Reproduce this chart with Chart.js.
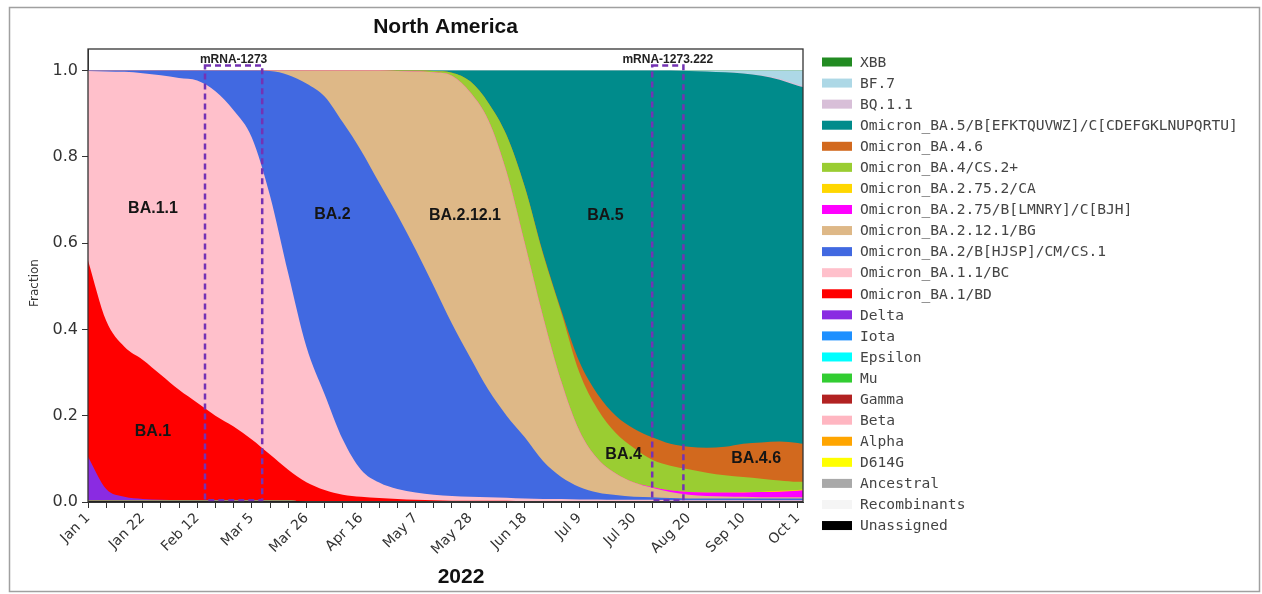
<!DOCTYPE html>
<html>
<head>
<meta charset="utf-8">
<script src="https://cdn.jsdelivr.net/npm/chart.js@4.4.0/dist/chart.umd.min.js"></script>
<style>
  html, body { margin: 0; background: #fff; }
  canvas { display: block; }
</style>
</head>
<body>
<canvas id="variants" width="1262" height="594"></canvas>
<script>
// days since 2022-01-01, one sample a week (last one is Oct 3)
const days = [0, 7, 14, 21, 28, 35, 42, 49, 56, 63, 70, 77, 84, 91, 98, 105, 112, 119, 126, 133,
  140, 147, 154, 161, 168, 175, 182, 189, 196, 203, 210, 217, 224, 231, 238, 245, 252, 259, 266, 273, 275];

const tickDays = [0, 21, 42, 63, 84, 105, 126, 147, 168, 189, 210, 231, 252, 273];
const tickLabels = ['Jan 1', 'Jan 22', 'Feb 12', 'Mar 5', 'Mar 26', 'Apr 16', 'May 7',
  'May 28', 'Jun 18', 'Jul 9', 'Jul 30', 'Aug 20', 'Sep 10', 'Oct 1'];
const yTicks = [0, 0.2, 0.4, 0.6, 0.8, 1.0];

// fractions per lineage, bottom of the stack first
const none = [0,0,0,0,0,0,0,0,0,0, 0,0,0,0,0,0,0,0,0,0, 0,0,0,0,0,0,0,0,0,0, 0,0,0,0,0,0,0,0,0,0, 0];
const unassigned = [0.003,0.003,0.003,0.003,0.003,0.003,0.003,0.003,0.003,0.003, 0.003,0.003,0.002,0.002,0.002,0.002,0.002,0.002,0.002,0.002,
  0.002,0.002,0.002,0.002,0.002,0.002,0.002,0.002,0.002,0.002, 0.002,0.002,0.002,0.002,0.002,0.002,0.002,0.002,0.002,0.002, 0.002];
const delta = [0.102,0.027,0.009,0.004,0.002,0.001,0.001,0.001,0,0, 0,0,0,0,0,0,0,0,0,0,
  0,0,0,0,0,0,0,0,0,0, 0,0,0,0,0,0,0,0,0,0, 0];
const ba1 = [0.455,0.39,0.348,0.323,0.29,0.256,0.226,0.196,0.172,0.142, 0.107,0.072,0.044,0.026,0.015,0.010,0.007,0.005,0.003,0.002,
  0.001,0.001,0.001,0.001,0,0,0,0,0,0, 0,0,0,0,0,0,0,0,0,0, 0];
const ba11 = [0.439,0.578,0.637,0.664,0.694,0.723,0.747,0.752,0.733,0.700, 0.600,0.455,0.314,0.222,0.128,0.063,0.036,0.023,0.017,0.013,
  0.011,0.009,0.008,0.007,0.006,0.005,0.005,0.004,0.004,0.003, 0.003,0.003,0.002,0.002,0.002,0.002,0.002,0.002,0.002,0.002, 0.002];
const ba2 = [0.001,0.002,0.003,0.006,0.011,0.017,0.023,0.048,0.092,0.155, 0.289,0.46,0.61,0.69,0.735,0.74,0.695,0.635,0.563,0.483,
  0.399,0.323,0.249,0.19,0.142,0.088,0.051,0.029,0.016,0.011, 0.007,0.006,0.005,0.004,0.004,0.004,0.004,0.004,0.004,0.004, 0.004];
const ba2121 = [0,0,0,0,0,0,0,0,0,0, 0.001,0.010,0.030,0.060,0.120,0.185,0.260,0.334,0.413,0.496,
  0.575,0.615,0.625,0.565,0.45,0.335,0.222,0.13,0.078,0.05, 0.033,0.022,0.014,0.009,0.006,0.005,0.004,0.003,0.003,0.003, 0.003];
const ba275 = [0,0,0,0,0,0,0,0,0,0, 0,0,0,0,0,0,0,0,0,0,
  0,0,0,0,0,0,0,0,0,0, 0,0.002,0.004,0.006,0.008,0.009,0.010,0.012,0.013,0.015, 0.016];
const ba2752 = [0,0,0,0,0,0,0,0,0,0, 0,0,0,0,0,0,0,0,0,0,
  0,0,0,0,0,0,0,0,0,0, 0,0,0,0,0,0,0.001,0.001,0.002,0.002, 0.002];
const ba4 = [0,0,0,0,0,0,0,0,0,0, 0,0,0,0,0,0,0,0.001,0.002,0.003,
  0.007,0.025,0.04,0.085,0.13,0.145,0.16,0.135,0.115,0.094, 0.08,0.063,0.057,0.053,0.046,0.040,0.035,0.030,0.024,0.019, 0.018];
const ba46 = [0,0,0,0,0,0,0,0,0,0, 0,0,0,0,0,0,0,0,0,0,
  0,0,0,0,0.001,0.003,0.005,0.025,0.035,0.04, 0.045,0.052,0.051,0.052,0.058,0.066,0.077,0.084,0.09,0.09, 0.088];
const ba5 = [0,0,0,0,0,0,0,0,0,0, 0,0,0,0,0,0,0,0,0,0.001,
  0.005,0.025,0.075,0.15,0.269,0.422,0.555,0.675,0.75,0.8, 0.83,0.85,0.865,0.871,0.872,0.868,0.858,0.85,0.839,0.828, 0.827];
const bq11 = [0,0,0,0,0,0,0,0,0,0, 0,0,0,0,0,0,0,0,0,0,
  0,0,0,0,0,0,0,0,0,0, 0,0,0,0,0,0,0.001,0.001,0.002,0.003, 0.003];
const bf7 = [0,0,0,0,0,0,0,0,0,0, 0,0,0,0,0,0,0,0,0,0,
  0,0,0,0,0,0,0,0,0,0, 0,0,0,0.001,0.002,0.004,0.006,0.011,0.019,0.032, 0.035];

const series = [
  ['Unassigned', '#000000', unassigned],
  ['Recombinants', '#f5f5f5', none],
  ['Ancestral', '#a9a9a9', none],
  ['D614G', '#ffff00', none],
  ['Alpha', '#ffa500', none],
  ['Beta', '#ffb6c1', none],
  ['Gamma', '#b22222', none],
  ['Mu', '#32cd32', none],
  ['Epsilon', '#00ffff', none],
  ['Iota', '#1e90ff', none],
  ['Delta', '#8a2be2', delta],
  ['Omicron_BA.1/BD', '#ff0000', ba1],
  ['Omicron_BA.1.1/BC', '#ffc0cb', ba11],
  ['Omicron_BA.2/B[HJSP]/CM/CS.1', '#4169e1', ba2],
  ['Omicron_BA.2.12.1/BG', '#deb887', ba2121],
  ['Omicron_BA.2.75/B[LMNRY]/C[BJH]', '#ff00ff', ba275],
  ['Omicron_BA.2.75.2/CA', '#ffd700', ba2752],
  ['Omicron_BA.4/CS.2+', '#9acd32', ba4],
  ['Omicron_BA.4.6', '#d2691e', ba46],
  ['Omicron_BA.5/B[EFKTQUVWZ]/C[CDEFGKLNUPQRTU]', '#008b8b', ba5],
  ['BQ.1.1', '#d8bfd8', bq11],
  ['BF.7', '#add8e6', bf7],
  ['XBB', '#228b22', none]
];

// annotations: vaccine windows and lineage names (day, fraction)
const boxStart = [45, 217];
const boxEnd = [67, 229];
const boxNames = ['mRNA-1273', 'mRNA-1273.222'];
const tagText = ['BA.1.1', 'BA.2', 'BA.2.12.1', 'BA.5', 'BA.1', 'BA.4', 'BA.4.6'];
const tagDay = [25, 94, 145, 199, 25, 206, 257];
const tagFrac = [0.68, 0.667, 0.663, 0.663, 0.163, 0.109, 0.1];

const weekTicks = [];
for (let d = 0; d <= 273; d += 7) weekTicks.push(d);

const overlay = {
  id: 'overlay',
  beforeDraw(chart) {
    const ctx = chart.ctx;
    ctx.save();
    ctx.fillStyle = '#fff';
    ctx.fillRect(0, 0, chart.width, chart.height);
    ctx.strokeStyle = '#a0a0a0';
    ctx.lineWidth = 1.5;
    ctx.strokeRect(9.5, 7.5, 1250, 584);
    ctx.restore();
  },
  afterDatasetsDraw(chart) {
    const ctx = chart.ctx;
    const x = chart.scales.x, y = chart.scales.y;
    const a = chart.chartArea;
    ctx.save();
    // vaccine boxes
    ctx.strokeStyle = '#7432b4';
    ctx.lineWidth = 2.5;
    ctx.setLineDash([6, 4]);
    boxStart.forEach((s, i) => {
      const l = x.getPixelForValue(s), r = x.getPixelForValue(boxEnd[i]);
      const t = y.getPixelForValue(1.012), b = y.getPixelForValue(0.004);
      ctx.strokeRect(l, t, r - l, b - t);
    });
    ctx.setLineDash([]);
    ctx.fillStyle = '#222';
    ctx.font = 'bold 12px "Liberation Sans", Arial, sans-serif';
    ctx.textAlign = 'center';
    ctx.textBaseline = 'middle';
    boxNames.forEach((n, i) => {
      const cx = x.getPixelForValue((boxStart[i] + boxEnd[i]) / 2);
      ctx.fillText(n, cx, y.getPixelForValue(1.026));
    });
    // lineage tags
    ctx.fillStyle = '#151515';
    ctx.font = 'bold 16px "Liberation Sans", Arial, sans-serif';
    tagText.forEach((t, i) => {
      ctx.fillText(t, x.getPixelForValue(tagDay[i]), y.getPixelForValue(tagFrac[i]));
    });
    // axes frame
    ctx.strokeStyle = '#333';
    ctx.lineWidth = 1.3;
    ctx.strokeRect(a.left, a.top, a.right - a.left, a.bottom - a.top);
    ctx.restore();
  },
  afterDraw(chart) {
    const ctx = chart.ctx;
    const a = chart.chartArea;
    ctx.save();
    ctx.fillStyle = '#111';
    ctx.textAlign = 'center';
    ctx.textBaseline = 'middle';
    ctx.font = 'bold 21px "Liberation Sans", Arial, sans-serif';
    ctx.fillText('North America', (a.left + a.right) / 2, 27);
    ctx.fillText('2022', 461, 577);
    ctx.font = '12px "DejaVu Sans", sans-serif';
    ctx.fillStyle = '#333';
    ctx.translate(35, 283);
    ctx.rotate(-Math.PI / 2);
    ctx.fillText('Fraction', 0, 0);
    ctx.restore();

    // legend, top of the stack first
    ctx.save();
    ctx.font = '14.6px "DejaVu Sans Mono", monospace';
    ctx.textAlign = 'left';
    ctx.textBaseline = 'middle';
    const ds = chart.data.datasets;
    for (let k = 0; k < ds.length; k++) {
      const d = ds[ds.length - 1 - k];
      const ly = 62 + k * 21.07;
      ctx.fillStyle = d.backgroundColor;
      ctx.fillRect(822, ly - 4.5, 30, 9);
      ctx.fillStyle = '#444';
      ctx.fillText(d.label, 860, ly + 1);
    }
    ctx.restore();
  }
};

new Chart(document.getElementById('variants'), {
  type: 'line',
  data: {
    datasets: series.map(([label, color, vals]) => ({
      label: label,
      data: days.map((d, i) => ({ x: d, y: vals[i] })),
      backgroundColor: color,
      borderColor: color,
      borderWidth: 0,
      pointRadius: 0,
      fill: 'origin',
      cubicInterpolationMode: 'monotone'
    }))
  },
  options: {
    responsive: false,
    animation: false,
    devicePixelRatio: 1,
    layout: { padding: { left: 10, top: 49, right: 459, bottom: 32 } },
    plugins: {
      legend: { display: false },
      tooltip: { enabled: false },
      title: { display: false }
    },
    scales: {
      x: {
        type: 'linear',
        min: 0,
        max: 275,
        afterFit: s => { s.height = 60; },
        afterBuildTicks: s => { s.ticks = weekTicks.map(v => ({ value: v })); },
        grid: { drawOnChartArea: false, tickLength: 6, tickColor: '#333' },
        border: { color: '#333' },
        ticks: {
          autoSkip: false,
          maxRotation: 45,
          minRotation: 45,
          padding: 2,
          color: '#333',
          font: { family: '"DejaVu Sans", sans-serif', size: 14 },
          callback: v => {
            const k = tickDays.indexOf(v);
            return k >= 0 ? tickLabels[k] : '';
          }
        }
      },
      y: {
        stacked: true,
        min: 0,
        max: 1.05,
        afterFit: s => { s.width = 78; },
        afterBuildTicks: s => { s.ticks = yTicks.map(v => ({ value: v })); },
        grid: { drawOnChartArea: false, tickLength: 6, tickColor: '#333' },
        border: { color: '#333' },
        ticks: {
          padding: 4,
          color: '#333',
          font: { family: '"DejaVu Sans", sans-serif', size: 16 },
          callback: v => v.toFixed(1)
        }
      }
    }
  },
  plugins: [overlay]
});
</script>
</body>
</html>
